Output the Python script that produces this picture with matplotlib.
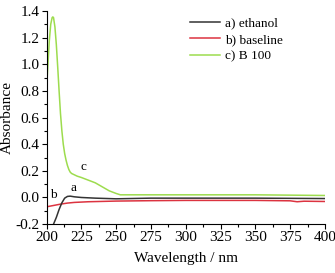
import matplotlib
matplotlib.use("Agg")
import matplotlib.pyplot as plt
from matplotlib.ticker import MultipleLocator, FormatStrFormatter

plt.rcParams["font.family"] = ["Liberation Serif", "DejaVu Serif"]

# a) ethanol
wl_a = [205, 207, 209, 211, 213, 215, 217, 220, 225, 235, 250, 275, 300, 350, 400]
ab_a = [-0.20, -0.15, -0.09, -0.04, -0.005, 0.008, 0.010, 0.005, 0.0, -0.005, -0.01, -0.005, -0.005, -0.005, -0.008]
# b) baseline
wl_b = [200, 205, 210, 215, 220, 230, 250, 275, 300, 350, 375, 380, 385, 400]
ab_b = [-0.07, -0.06, -0.05, -0.042, -0.037, -0.032, -0.027, -0.024, -0.022, -0.022, -0.025, -0.032, -0.028, -0.03]
# c) B 100
wl_c = [200, 201, 202, 203, 204, 204.5, 205, 206, 207, 208, 209, 210, 211, 212, 213, 214, 215, 216,
        217, 218, 219, 220, 222, 225, 230, 235, 240, 245, 250, 253, 260, 300, 350, 400]
ab_c = [0.82, 1.00, 1.18, 1.30, 1.35, 1.355, 1.35, 1.28, 1.15, 0.98, 0.80, 0.63, 0.50, 0.40, 0.33, 0.28, 0.24, 0.21,
        0.19, 0.18, 0.175, 0.17, 0.16, 0.15, 0.13, 0.11, 0.08, 0.05, 0.03, 0.02, 0.02, 0.02, 0.02, 0.015]

fig = plt.figure(figsize=(3.35, 2.73), dpi=100)
ax = fig.add_axes([0.139, 0.179, 0.831, 0.781])
ax.plot(wl_a, ab_a, color="#333333", lw=1.1, label="a) ethanol", zorder=3)
ax.plot(wl_b, ab_b, color="#dc3340", lw=1.1, label="b) baseline", zorder=2)
ax.plot(wl_c, ab_c, color="#9ddc4e", lw=1.1, label="c) B 100", zorder=1)

ax.set_xlim(200, 400)
ax.set_ylim(-0.2, 1.4)
ax.xaxis.set_major_locator(MultipleLocator(25))
ax.xaxis.set_minor_locator(MultipleLocator(12.5))
ax.yaxis.set_major_locator(MultipleLocator(0.2))
ax.yaxis.set_minor_locator(MultipleLocator(0.1))
ax.yaxis.set_major_formatter(FormatStrFormatter("%.1f"))
for s in ("top", "right"):
    ax.spines[s].set_visible(False)
ax.tick_params(which="major", direction="out", length=3.5, width=0.8, labelsize=11, pad=1.5)
ax.tick_params(which="minor", direction="out", length=2, width=0.8)

ax.set_xlabel("Wavelength / nm", fontsize=11, labelpad=6)
ax.set_ylabel("Absorbance", fontsize=11, labelpad=1)

ax.text(219, 0.07, "a", fontsize=9.5, ha="center", va="center")
ax.text(205, 0.015, "b", fontsize=9.5, ha="center", va="center")
ax.text(226.5, 0.23, "c", fontsize=9.5, ha="center", va="center")

ax.legend(loc="upper left", bbox_to_anchor=(0.49, 1.0), frameon=False, fontsize=9.5,
          handlelength=2.3, handletextpad=0.35, labelspacing=0.3, borderaxespad=0.1)

fig.savefig("out.png", dpi=100)
